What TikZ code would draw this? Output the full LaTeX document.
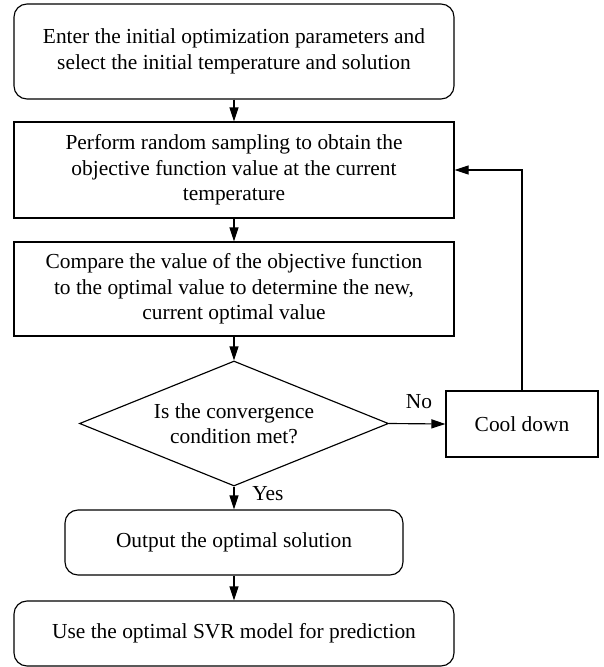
\documentclass[tikz,border=0pt]{standalone}
\usepackage{fontspec}
\setmainfont{Liberation Serif}
\usetikzlibrary{arrows.meta,shapes.geometric}
\begin{document}
\begin{tikzpicture}[x=1pt,y=-1pt,
  every node/.style={font=\fontsize{21.4}{25.5}\selectfont, align=center, inner sep=0pt},
  proc/.style={draw=black, line width=1.15pt, minimum width=440pt},
  roundproc/.style={proc, rounded corners=13pt},
  decision/.style={draw=black, line width=1.15pt, shape=diamond, minimum width=309pt, minimum height=125pt, aspect=2.47},
  flow/.style={draw=black, line width=1.15pt, -{Triangle[length=14pt,width=9pt]}},
  tag/.style={font=\fontsize{21.4}{25.5}\selectfont}
]
% page frame
\useasboundingbox (0,0) rectangle (604,667);

% main column
\node[roundproc, minimum height=95pt] (start) at (234,51.5)
  {Enter the initial optimization parameters and\\select the initial temperature and solution};
\node[proc, minimum height=96pt] (sample) at (234,170)
  {Perform random sampling to obtain the\\objective function value at the current\\temperature};
\node[proc, minimum height=94pt] (compare) at (234,289)
  {Compare the value of the objective function\\to the optimal value to determine the new,\\current optimal value};
\node[decision] (conv) at (234,423.5) {};
\node at (conv.center) {Is the convergence\\condition met?};
\node[proc, minimum width=152pt, minimum height=66pt] (cool) at (522,424) {Cool down};
\node[roundproc, minimum width=338pt, minimum height=65pt] (output) at (234,542.5)
  {Output the optimal solution};
\node[roundproc, minimum height=65pt] (predict) at (234,633.5)
  {Use the optimal SVR model for prediction};

% connectors
\draw[flow] (start.south) -- (sample.north);
\draw[flow] (sample.south) -- (compare.north);
\draw[flow] (compare.south) -- (conv.north);
\draw[flow] (conv.east) -- (cool.west);
\draw[flow] (conv.south) -- (output.north);
\draw[flow] (output.south) -- (predict.north);
\draw[flow] (cool.north) |- (sample.east);

% branch labels
\node[tag] (no) at (419,402) {No};
\node[tag] (yes) at (268,494) {Yes};
\end{tikzpicture}
\end{document}
